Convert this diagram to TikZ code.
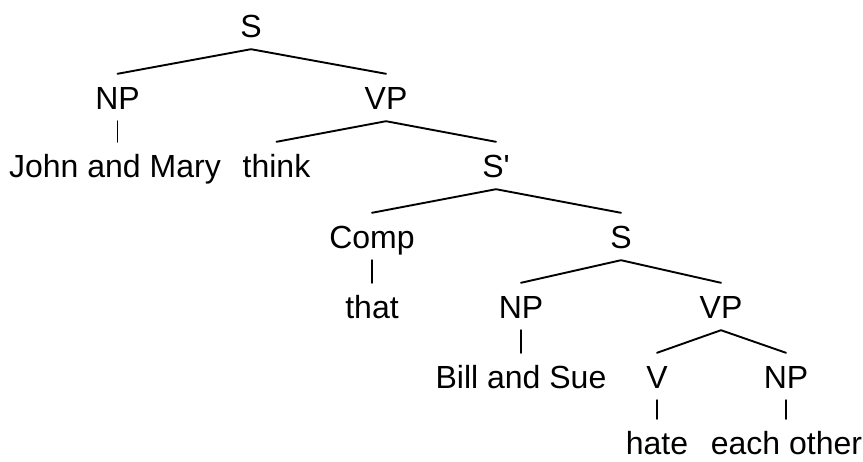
\documentclass[tikz,border=0pt]{standalone}
\usepackage{fontspec}
\setmainfont{Liberation Sans}
\begin{document}
\begin{tikzpicture}[x=1pt, y=-1pt,
  cat/.style={anchor=base, inner xsep=0pt, inner ysep=12pt,
              text height=23pt, text depth=0pt, font=\fontsize{32}{36}\selectfont},
  branch/.style={line width=1.9pt, line cap=round, line join=round}]
  \useasboundingbox (0,0) rectangle (863,461);

  % category labels and words
  \node[cat] (s)     at (251,37)  {S};
  \node[cat] (np1)   at (117.5,109) {NP};
  \node[cat] (vp1)   at (386,109) {VP};
  \node[cat] (jm)    at (115,177) {John and Mary};
  \node[cat] (think) at (276.5,177) {think};
  \node[cat] (sbar)  at (496,177) {S\textquotesingle};
  \node[cat] (comp)  at (372,248) {Comp};
  \node[cat] (s2)    at (621,248) {S};
  \node[cat] (that)  at (372,318) {that};
  \node[cat] (np2)   at (521,318) {NP};
  \node[cat] (vp2)   at (721,318) {VP};
  \node[cat] (bs)    at (521,388) {Bill and Sue};
  \node[cat] (v)     at (657,388) {V};
  \node[cat] (np3)   at (786,388) {NP};
  \node[cat] (hate)  at (657,454) {hate};
  \node[cat] (eo)    at (786.5,454) {each other};

  % branching edges
  \draw[branch] (np1.north) -- (s.south) -- (vp1.north);
  \draw[branch] (think.north) -- (vp1.south) -- (sbar.north);
  \draw[branch] (comp.north) -- (sbar.south) -- (s2.north);
  \draw[branch] (np2.north) -- (s2.south) -- (vp2.north);
  \draw[branch] (v.north) -- (vp2.south) -- (np3.north);

  % unary edges
  \draw[branch] (np1.south) -- (np1.south |- jm.north);
  \draw[branch] (comp.south) -- (that.north);
  \draw[branch] (np2.south) -- (bs.north);
  \draw[branch] (v.south) -- (hate.north);
  \draw[branch] (np3.south) -- (np3.south |- eo.north);
\end{tikzpicture}
\end{document}
